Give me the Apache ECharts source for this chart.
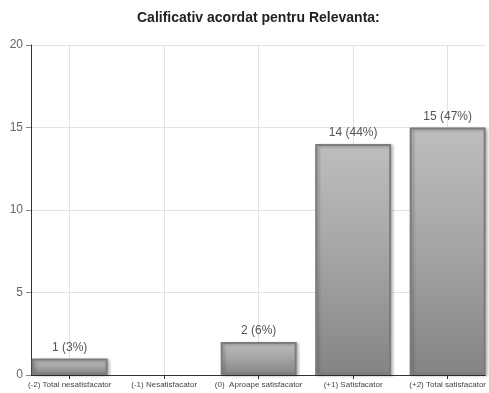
<!DOCTYPE html>
<html>
<head>
<meta charset="utf-8">
<script src="https://cdn.jsdelivr.net/npm/echarts@6/dist/echarts.min.js"></script>
<style>
  html, body { margin: 0; padding: 0; background: #fff; }
  #chart { width: 489px; height: 393px; }
</style>
</head>
<body>
<div id="chart"></div>
<script>
// Rating categories and response counts
const categories = [
  '(-2) Total nesatisfacator',
  '(-1) Nesatisfacator',
  '(0)  Aproape satisfacator',
  '(+1) Satisfacator',
  '(+2) Total satisfacator'
];
const counts = [1, 0, 2, 14, 15];
const percents = [3, 0, 6, 44, 47];
const yTicks = [0, 5, 10, 15, 20];

const positions = categories.map((_, i) => i);
const chart = echarts.init(document.getElementById('chart'), null, { renderer: 'canvas' });

const barStyle = {
  color: new echarts.graphic.LinearGradient(0, 0, 0, 1, [
    { offset: 0, color: '#bebebe' },
    { offset: 0.5, color: '#a4a4a4' },
    { offset: 1, color: '#848484' }
  ]),
  borderColor: '#7c7c7c',
  borderWidth: 2,
  shadowColor: 'rgba(0,0,0,0.25)',
  shadowBlur: 3,
  shadowOffsetX: 2,
  shadowOffsetY: 1
};

// empty categories get no outline so nothing is drawn for them
const barData = counts.map((c, i) => ({
  value: [positions[i], c],
  itemStyle: c > 0 ? undefined : { borderWidth: 0, shadowBlur: 0, shadowOffsetX: 0, shadowOffsetY: 0, opacity: 0 }
}));

chart.setOption({
  animation: false,
  backgroundColor: '#ffffff',
  title: {
    text: 'Calificativ acordat pentru Relevanta:',
    left: 132,
    top: 6,
    textStyle: {
      fontFamily: 'Liberation Sans, Arial, sans-serif',
      fontSize: 14,
      fontWeight: 'bold',
      color: '#222'
    }
  },
  grid: { left: 31, right: 0, top: 45, bottom: 18 },
  xAxis: {
    type: 'value',
    min: -0.4094,
    max: 4.399,
    axisLine: { show: true, onZero: false, lineStyle: { color: '#333', width: 1 } },
    axisTick: {
      show: true,
      length: 4,
      customValues: positions,
      lineStyle: { color: '#333' }
    },
    axisLabel: {
      customValues: positions,
      formatter: v => categories[Math.round(v)] || '',
      fontFamily: 'Liberation Sans, Arial, sans-serif',
      fontSize: 8,
      color: '#444',
      margin: 6
    },
    splitLine: { show: true, lineStyle: { color: '#e2e2e2', width: 1 } }
  },
  yAxis: {
    type: 'value',
    min: yTicks[0],
    max: yTicks[yTicks.length - 1],
    interval: 5,
    axisLine: { show: true, onZero: false, lineStyle: { color: '#333', width: 1 } },
    axisTick: { show: true, length: 5, lineStyle: { color: '#888' } },
    axisLabel: {
      fontFamily: 'Liberation Sans, Arial, sans-serif',
      fontSize: 12,
      color: '#666',
      margin: 8
    },
    splitLine: { show: true, lineStyle: { color: '#e2e2e2', width: 1 } }
  },
  series: [{
    type: 'bar',
    barWidth: 76,
    data: barData,
    itemStyle: barStyle,
    label: {
      show: true,
      position: 'top',
      distance: 5,
      fontFamily: 'Liberation Sans, Arial, sans-serif',
      fontSize: 12,
      color: '#555',
      formatter: p => {
        const i = p.dataIndex;
        return counts[i] > 0 ? counts[i] + ' (' + percents[i] + '%)' : '';
      }
    }
  }]
});
</script>
</body>
</html>
